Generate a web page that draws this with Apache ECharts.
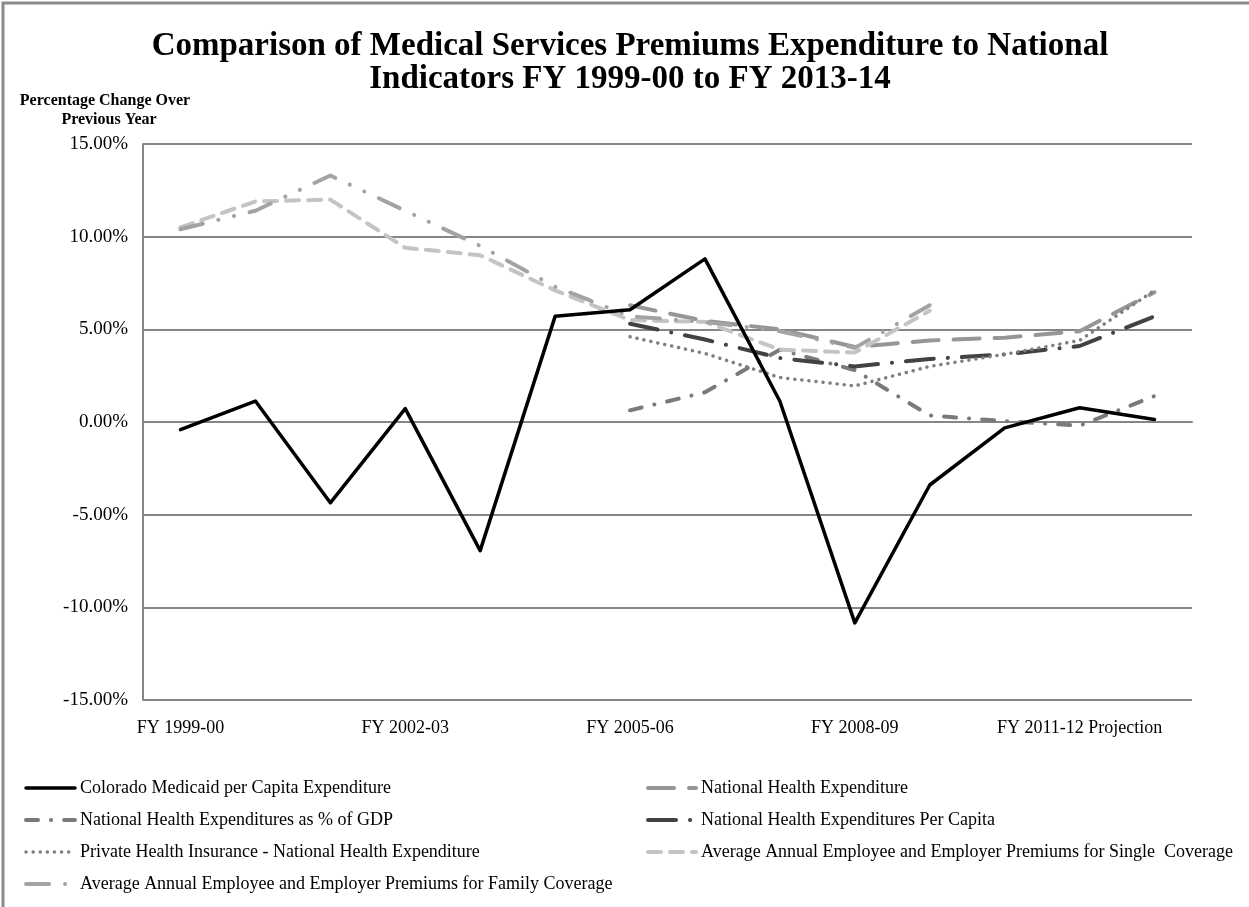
<!DOCTYPE html>
<html>
<head>
<meta charset="utf-8">
<script src="https://cdn.jsdelivr.net/npm/echarts@6/dist/echarts.min.js"></script>
<style>
html,body{margin:0;padding:0;background:#fff;}
#chart{width:1249px;height:907px;}
</style>
</head>
<body>
<div id="chart"></div>
<script>
const categories = ['FY 1999-00','FY 2000-01','FY 2001-02','FY 2002-03','FY 2003-04','FY 2004-05','FY 2005-06','FY 2006-07','FY 2007-08','FY 2008-09','FY 2009-10','FY 2010-11','FY 2011-12 Projection','FY 2012-13 Projection'];
const yTicks = [-15, -10, -5, 0, 5, 10, 15];

const coloradoMedicaid = [-0.41, 1.13, -4.36, 0.72, -6.94, 5.70, 6.06, 8.80, 1.12, -10.84, -3.40, -0.32, 0.77, 0.13];
const nationalHealthExp = [null, null, null, null, null, null, 6.3, 5.45, 5.0, 4.05, 4.4, 4.55, 4.9, 7.0];
const nheShareGdp = [null, null, null, null, null, null, 0.63, 1.6, 3.9, 2.8, 0.35, 0.05, -0.2, 1.4];
const nhePerCapita = [null, null, null, null, null, null, 5.3, 4.45, 3.45, 3.0, 3.4, 3.65, 4.1, 5.7];
const privateInsurance = [null, null, null, null, null, null, 4.6, 3.7, 2.4, 1.95, 3.0, 3.65, 4.4, 7.1];
const singleCoverage = [10.5, 11.9, 12.0, 9.4, 9.0, 7.1, 5.5, 5.4, 3.9, 3.75, 6.0, null, null, null];
const familyCoverage = [10.4, 11.4, 13.3, 11.4, 9.5, 7.3, 5.7, 5.4, 4.9, 4.0, 6.3, null, null, null];

const names = {
  co: 'Colorado Medicaid per Capita Expenditure',
  nhe: 'National Health Expenditure',
  gdp: 'National Health Expenditures as % of GDP',
  pc: 'National Health Expenditures Per Capita',
  phi: 'Private Health Insurance - National Health Expenditure',
  single: 'Average Annual Employee and Employer Premiums for Single  Coverage',
  family: 'Average Annual Employee and Employer Premiums for Family Coverage'
};

const FONT = 'Liberation Serif';
const chart = echarts.init(document.getElementById('chart'));

function ser(name, data, color, width, dash, z) {
  return {
    name: name, type: 'line', data: data, symbol: 'none', showSymbol: false,
    connectNulls: false, z: z || 2,
    lineStyle: { color: color, width: width, type: dash, cap: 'round', join: 'round' },
    itemStyle: { color: color }
  };
}

const legendText = { fontFamily: FONT, fontSize: 18, color: '#000', lineHeight: 14 };
const legendLine = { width: 'inherit', type: 'inherit', color: 'inherit', cap: 'round' };

chart.setOption({
  animation: false,
  backgroundColor: '#fff',
  textStyle: { fontFamily: FONT },
  grid: { left: 143, right: 57, top: 144, bottom: 207, containLabel: false },
  graphic: [
    { type: 'rect', shape: { x: 3, y: 3, width: 1400, height: 1000 }, style: { fill: 'none', stroke: '#8a8a8a', lineWidth: 3 }, silent: true },
    { type: 'text', x: 630, y: 46, style: { text: 'Comparison of Medical Services Premiums Expenditure to National', font: 'bold 33px "Liberation Serif"', fill: '#000', textAlign: 'center', textVerticalAlign: 'middle' } },
    { type: 'text', x: 630, y: 79, style: { text: 'Indicators FY 1999-00 to FY 2013-14', font: 'bold 33px "Liberation Serif"', fill: '#000', textAlign: 'center', textVerticalAlign: 'middle' } },
    { type: 'text', x: 105, y: 101, style: { text: 'Percentage Change Over', font: 'bold 16px "Liberation Serif"', fill: '#000', textAlign: 'center', textVerticalAlign: 'middle' } },
    { type: 'text', x: 109, y: 120, style: { text: 'Previous Year', font: 'bold 16px "Liberation Serif"', fill: '#000', textAlign: 'center', textVerticalAlign: 'middle' } }
  ],
  legend: [
    {
      orient: 'vertical', left: 24, top: 779, padding: 0,
      itemWidth: 49, itemHeight: 14, itemGap: 14,
      itemStyle: { opacity: 0 },
      lineStyle: legendLine,
      textStyle: legendText,
      data: [names.co, names.gdp, names.phi, names.family]
    },
    {
      orient: 'vertical', left: 646, top: 779, padding: 0,
      itemWidth: 48, itemHeight: 14, itemGap: 14,
      itemStyle: { opacity: 0 },
      lineStyle: legendLine,
      textStyle: legendText,
      data: [names.nhe, names.pc, names.single]
    }
  ],
  xAxis: {
    type: 'category', data: categories, boundaryGap: true,
    axisLine: { show: true, lineStyle: { color: '#868686', width: 2 } },
    axisTick: { show: false },
    axisLabel: { interval: 2, color: '#000', fontFamily: FONT, fontSize: 18, margin: 19 },
    splitLine: { show: false }
  },
  yAxis: {
    type: 'value', min: yTicks[0], max: yTicks[yTicks.length - 1], interval: 5,
    axisLine: { show: true, lineStyle: { color: '#868686', width: 2 } },
    axisTick: { show: false },
    axisLabel: { color: '#000', fontFamily: FONT, fontSize: 19, margin: 15,
      formatter: function (v) { return v.toFixed(2) + '%'; } },
    splitLine: { show: true, lineStyle: { color: '#868686', width: 2 } }
  },
  series: [
    ser(names.co, coloradoMedicaid, '#000000', 3.5, 'solid', 3),
    ser(names.nhe, nationalHealthExp, '#969696', 4, [26, 15]),
    ser(names.gdp, nheShareGdp, '#7a7a7a', 4, [12, 13, 0.1, 13]),
    ser(names.pc, nhePerCapita, '#424242', 4, [28, 14, 0.1, 14]),
    ser(names.phi, privateInsurance, '#7f7f7f', 3.5, [0.1, 7]),
    ser(names.single, singleCoverage, '#c4c4c4', 4, [13, 9]),
    ser(names.family, familyCoverage, '#a3a3a3', 4, [23, 16, 0.1, 16, 0.1, 16])
  ]
});
</script>
</body>
</html>
